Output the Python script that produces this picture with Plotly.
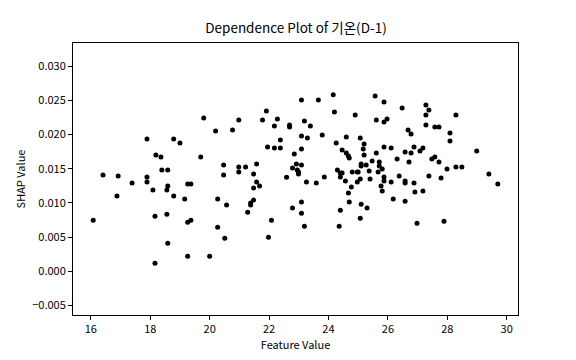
import plotly.graph_objects as go

feature_value = [
    16.08, 16.41, 16.92, 17.89, 17.39, 17.89, 18.09, 18.56, 18.59, 19.26,
    19.37, 16.88, 18.79, 19.16, 20.27, 20.57, 18.16, 18.56, 19.26, 19.37,
    20.27, 20.51, 18.59, 19.26, 20.00, 18.16, 19.80, 20.20, 17.89, 18.79,
    19.00, 18.19, 18.36, 19.70, 18.39, 18.59, 20.47, 20.47,
    24.16, 25.57, 23.09, 23.66, 21.91, 24.20, 24.90, 20.98, 21.78, 22.28,
    23.19, 25.61, 22.18, 22.69, 22.69, 23.39, 20.77, 23.09, 23.29, 23.79,
    24.60, 25.07, 22.38, 24.26, 25.20, 21.95, 22.18, 22.38, 23.09, 24.46,
    25.17, 24.60, 22.85, 25.20, 25.61, 24.67, 24.70, 25.47, 20.98, 20.98,
    21.21, 21.58, 21.48, 22.92, 23.09, 22.79, 22.95, 22.99, 22.99, 22.59,
    23.86, 24.30, 24.40, 24.46, 24.40, 24.80, 24.97, 25.00, 25.10, 25.10,
    25.27, 25.37, 25.67, 25.07, 25.40, 24.97, 21.58, 21.68, 21.48, 23.26,
    23.59, 24.57, 24.77, 25.77, 24.67, 24.70, 21.38, 21.38, 21.48, 21.28,
    22.79, 23.09, 23.09, 23.19, 22.08, 21.98, 24.40, 24.36, 25.10, 25.30,
    25.07,
    25.87, 26.48, 27.28, 27.38, 27.28, 28.29, 25.87, 25.97, 27.28, 27.58,
    27.72, 26.68, 26.78, 28.09, 28.09, 25.87, 26.11, 26.58, 26.78, 26.88,
    27.08, 27.18, 26.31, 26.71, 27.48, 27.58, 27.72, 28.99, 25.71, 25.71,
    25.81, 27.99, 28.29, 28.49, 29.40, 25.87, 26.38, 27.38, 27.79, 29.70,
    25.87, 25.81, 26.11, 26.58, 26.58, 26.88, 26.91, 27.18, 26.18, 26.58,
    26.98, 27.89,
]

shap_value = [
    0.00748, 0.01408, 0.01393, 0.01378, 0.01290, 0.01305, 0.01188, 0.01188, 0.01246, 0.01276,
    0.01276, 0.01100, 0.01100, 0.01056, 0.01056, 0.00968, 0.00806, 0.00836, 0.00718, 0.00748,
    0.00645, 0.00484, 0.00411, 0.00220, 0.00220, 0.00117, 0.02243, 0.02053, 0.01935, 0.01935,
    0.01877, 0.01701, 0.01672, 0.01672, 0.01481, 0.01481, 0.01554, 0.01408,
    0.02581, 0.02566, 0.02507, 0.02507, 0.02346, 0.02331, 0.02287, 0.02214, 0.02214, 0.02229,
    0.02199, 0.02214, 0.02126, 0.02141, 0.02111, 0.02126, 0.02067, 0.01979, 0.01950, 0.01994,
    0.01965, 0.01950, 0.01921, 0.01877, 0.01862, 0.01818, 0.01804, 0.01804, 0.01789, 0.01774,
    0.01789, 0.01730, 0.01716, 0.01701, 0.01730, 0.01686, 0.01657, 0.01613, 0.01525, 0.01452,
    0.01525, 0.01569, 0.01422, 0.01569, 0.01554, 0.01510, 0.01481, 0.01452, 0.01422, 0.01375,
    0.01378, 0.01481, 0.01437, 0.01437, 0.01378, 0.01452, 0.01452, 0.01452, 0.01569, 0.01540,
    0.01554, 0.01466, 0.01452, 0.01349, 0.01349, 0.01305, 0.01305, 0.01246, 0.01217, 0.01305,
    0.01290, 0.01320, 0.01232, 0.01246, 0.01144, 0.01012, 0.00997, 0.00968, 0.01041, 0.00865,
    0.00924, 0.01012, 0.00850, 0.00660, 0.00748, 0.00499, 0.00894, 0.00660, 0.00982, 0.00924,
    0.00777,
    0.02478, 0.02390, 0.02434, 0.02361, 0.02287, 0.02287, 0.02185, 0.02229, 0.02141, 0.02111,
    0.02111, 0.02067, 0.02009, 0.02023, 0.01906, 0.01818, 0.01804, 0.01745, 0.01730, 0.01818,
    0.01760, 0.01804, 0.01642, 0.01598, 0.01642, 0.01672, 0.01598, 0.01760, 0.01598, 0.01540,
    0.01496, 0.01496, 0.01525, 0.01525, 0.01422, 0.01378, 0.01393, 0.01393, 0.01364, 0.01276,
    0.01320, 0.01173, 0.01305, 0.01320, 0.01290, 0.01290, 0.01158, 0.01173, 0.01056, 0.01026,
    0.00704, 0.00733,
]

title_text = "Dependence Plot of 기온(D-1)"
x_label = "Feature Value"
y_label = "SHAP Value"
x_ticks = [16, 18, 20, 22, 24, 26, 28, 30]
y_ticks = [-0.005, 0.000, 0.005, 0.010, 0.015, 0.020, 0.025, 0.030]

FONT = "Noto Sans CJK KR, DejaVu Sans, sans-serif"

# the page body has an 8px default margin, so the figure is drawn 8px smaller
W, H = 568, 352

fig = go.Figure(
    go.Scatter(
        x=feature_value,
        y=shap_value,
        mode="markers",
        marker=dict(color="black", size=5, line=dict(width=0)),
        hoverinfo="x+y",
    )
)

axis_common = dict(
    showgrid=False,
    zeroline=False,
    showline=True,
    linecolor="black",
    linewidth=1,
    mirror=True,
    ticks="outside",
    ticklen=4,
    tickwidth=1,
    tickcolor="black",
    tickfont=dict(family=FONT, size=11, color="black"),
)

fig.update_layout(
    width=W,
    height=H,
    margin=dict(l=65, r=58, t=35, b=45),
    paper_bgcolor="white",
    plot_bgcolor="white",
    showlegend=False,
    title=dict(
        text=title_text,
        x=288 / W,
        xanchor="center",
        y=1 - 20 / H,
        yanchor="middle",
        font=dict(family=FONT, size=13.5, color="black"),
    ),
    xaxis=dict(
        range=[15.40, 30.38],
        tickvals=x_ticks,
        ticktext=[str(v) for v in x_ticks],
        title=dict(text=x_label, font=dict(family=FONT, size=11, color="black"), standoff=1),
        **axis_common,
    ),
    yaxis=dict(
        range=[-0.0064, 0.0334],
        tickvals=y_ticks,
        tickformat=".3f",
        title=dict(text=y_label, font=dict(family=FONT, size=11, color="black"), standoff=4),
        **axis_common,
    ),
)

fig.write_html("out.html")
